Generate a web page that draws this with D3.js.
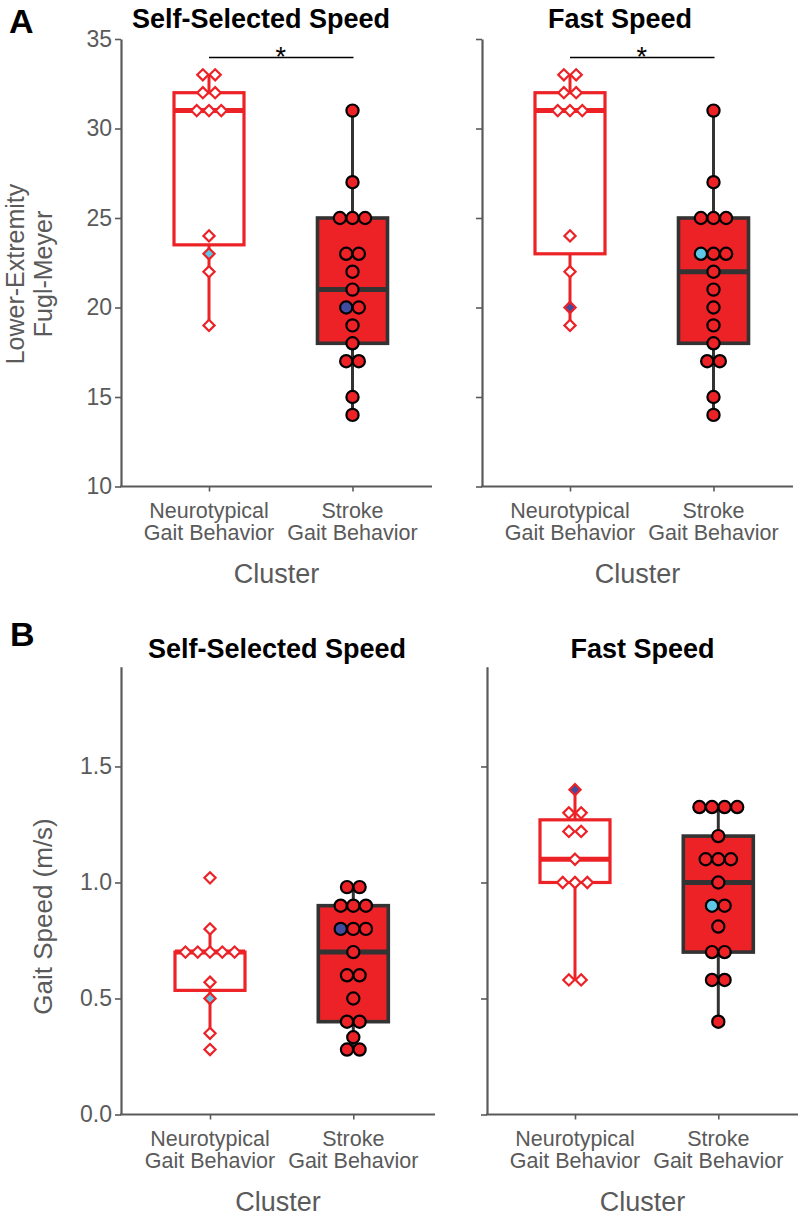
<!DOCTYPE html>
<html><head><meta charset="utf-8">
<script src="https://cdn.jsdelivr.net/npm/d3@7"></script>
<style>body{margin:0;background:#fff} svg{display:block} text{font-family:"Liberation Sans",Arial,Helvetica,sans-serif}</style>
</head><body><svg id="c" width="798" height="1219"></svg>
<script>
// ---------- data ----------
const categories = ["Neurotypical", "Stroke"];
const categoryLines = [["Neurotypical", "Gait Behavior"], ["Stroke", "Gait Behavior"]];
const yTicksFM = [10, 15, 20, 25, 30, 35];
const yTicksSpeed = [0, 0.5, 1.0, 1.5];

// Panel A: Lower-Extremity Fugl-Meyer
const fmSelfNeuro  = [33, 33, 32, 32, 31, 31, 31, 24, 23, 22, 19];
const fmSelfStroke = [31, 27, 25, 25, 25, 23, 23, 22, 21, 20, 20, 19, 18, 17, 17, 15, 14];
const fmFastNeuro  = [33, 33, 32, 32, 31, 31, 31, 24, 22, 20, 19];
const fmFastStroke = [31, 27, 25, 25, 25, 23, 23, 23, 22, 21, 20, 19, 18, 17, 17, 15, 14];
// box stats: [whisker low, Q1, median, Q3, whisker high]
const fmSelfNeuroBox  = [19, 23.5, 31, 32, 33];
const fmSelfStrokeBox = [14, 18, 21, 25, 31];
const fmFastNeuroBox  = [19, 23, 31, 32, 33];
const fmFastStrokeBox = [14, 18, 22, 25, 31];

// Panel B: Gait speed (m/s)
const spSelfNeuro  = [1.02, 0.80, 0.70, 0.70, 0.70, 0.70, 0.70, 0.57, 0.50, 0.35, 0.28];
const spSelfStroke = [0.98, 0.98, 0.90, 0.90, 0.90, 0.80, 0.80, 0.80, 0.70, 0.60, 0.60, 0.50, 0.40, 0.40, 0.333, 0.28, 0.28];
const spFastNeuro  = [1.40, 1.30, 1.30, 1.22, 1.22, 1.10, 1.00, 1.00, 1.00, 0.58, 0.58];
const spFastStroke = [1.325, 1.325, 1.325, 1.325, 1.20, 1.10, 1.10, 1.10, 1.00, 0.90, 0.90, 0.81, 0.70, 0.70, 0.58, 0.58, 0.40];
const spSelfNeuroBox  = [0.35, 0.535, 0.70, 0.70, 0.80];
const spSelfStrokeBox = [0.28, 0.40, 0.70, 0.90, 0.98];
const spFastNeuroBox  = [0.58, 1.00, 1.10, 1.27, 1.40];
const spFastStrokeBox = [0.40, 0.70, 1.00, 1.20, 1.325];

// highlighted participants: value per category, and colour
const fmSelfHighlight = [23, 20];
const fmFastHighlight = [20, 23];
const spSelfHighlight = [0.50, 0.80];
const spFastHighlight = [1.40, 0.90];
const fmSelfHighlightColor = ["cyan", "navy"];
const fmFastHighlightColor = ["navy", "cyan"];
const spSelfHighlightColor = ["cyan", "navy"];
const spFastHighlightColor = ["navy", "cyan"];

// ---------- style ----------
const RED = "#ec2227", DARK = "#333333", AXIS = "#5a5a5a";
const HL = {cyan: "#5ec6e6", navy: "#414ca0"};

const svg = d3.select("#c");

svg.append("text").attr("x", 9).attr("y", 33).attr("font-size", 34).attr("font-weight", "bold").text("A");
svg.append("text").attr("x", 10).attr("y", 646).attr("font-size", 34).attr("font-weight", "bold").text("B");

const yFM = d3.scaleLinear().domain([10, 35]).range([486.5, 39]);
const ySP = d3.scaleLinear().domain([0, 1.93]).range([1114.5, 666.7]);

function drawPanel(p) {
  const g = svg.append("g");
  const x = d3.scalePoint().domain(categories).range([p.cx0, p.cx1]);
  const y = p.y;
  const yb = y.range()[0];

  // y axis
  const ax = d3.axisLeft(y).tickValues(p.ticks).tickSize(6).tickSizeOuter(0).tickPadding(3)
    .tickFormat(p.labels ? p.fmt : "");
  const ag = g.append("g").attr("transform", `translate(${p.x0},0)`).call(ax);
  ag.select(".domain").attr("stroke", AXIS).attr("stroke-width", 2.2);
  ag.selectAll(".tick line").attr("stroke", AXIS).attr("stroke-width", 1.6);
  ag.selectAll(".tick text").attr("fill", AXIS).attr("font-size", 23).attr("font-family", '"Liberation Sans",Arial,sans-serif');

  // x axis
  const bx = d3.axisBottom(x).tickSize(5).tickSizeOuter(0).tickFormat("");
  const bg = g.append("g").attr("transform", `translate(0,${yb})`).call(bx);
  bg.select(".domain").remove();
  bg.selectAll(".tick line").attr("stroke", AXIS).attr("stroke-width", 1.6);
  g.append("line").attr("x1", p.x0 - 1).attr("x2", p.x1).attr("y1", yb).attr("y2", yb)
    .attr("stroke", AXIS).attr("stroke-width", 2.2);

  categories.forEach((c, i) => {
    const t = g.append("text").attr("text-anchor", "middle").attr("fill", AXIS).attr("font-size", 21.5);
    categoryLines[i].forEach((ln, j) => {
      t.append("tspan").attr("x", x(c)).attr("y", yb + 31 + j * 22.5).text(ln);
    });
  });
  g.append("text").attr("x", (p.x0 + p.x1) / 2).attr("y", yb + 96).attr("text-anchor", "middle")
    .attr("fill", AXIS).attr("font-size", 27).text("Cluster");

  // title
  g.append("text").attr("x", p.tx).attr("y", p.ty).attr("text-anchor", "middle")
    .attr("font-size", 27).attr("font-weight", "bold").attr("fill", "#000").text(p.title);

  // significance
  if (p.sig) {
    g.append("line").attr("x1", x(categories[0])).attr("x2", x(categories[1]) + 1)
      .attr("y1", 57.5).attr("y2", 57.5).attr("stroke", "#000").attr("stroke-width", 1.6);
    g.append("text").attr("x", (x(categories[0]) + x(categories[1])) / 2).attr("y", 66)
      .attr("text-anchor", "middle").attr("font-size", 27).attr("fill", "#000").text("*");
  }

  const bw = 70;
  // boxes
  p.groups.forEach((grp, i) => {
    const cx = x(categories[i]);
    const s = grp.box;
    const neuro = i === 0;
    const col = neuro ? RED : DARK;
    g.append("line").attr("x1", cx).attr("x2", cx).attr("y1", y(s[0])).attr("y2", y(s[4]))
      .attr("stroke", col).attr("stroke-width", 3);
    g.append("rect").attr("x", cx - bw / 2).attr("y", y(s[3])).attr("width", bw)
      .attr("height", y(s[1]) - y(s[3]))
      .attr("fill", neuro ? "#fff" : RED).attr("stroke", col).attr("stroke-width", neuro ? 3.2 : 3.6);
    g.append("line").attr("x1", cx - bw / 2).attr("x2", cx + bw / 2).attr("y1", y(s[2])).attr("y2", y(s[2]))
      .attr("stroke", col).attr("stroke-width", 5);
  });

  // points (centred swarm per equal value)
  p.groups.forEach((grp, i) => {
    const cx = x(categories[i]);
    const neuro = i === 0;
    const counts = d3.rollup(grp.vals, v => v.length, d => d);
    const used = new Map();
    let hlDone = false;
    const pts = [];
    grp.vals.forEach(v => {
      const k = counts.get(v);
      const idx = used.get(v) || 0;
      used.set(v, idx + 1);
      const sp = neuro ? 12.3 : 12.6;
      const ox = (idx - (k - 1) / 2) * sp;
      let hl = null;
      if (!hlDone && v === grp.hl && idx === 0) { hl = grp.hlc; hlDone = true; }
      pts.push({v, ox, hl});
    });
    pts.forEach(d => {
      const px = cx + d.ox, py = y(d.v);
      if (neuro) {
        const r = 5.6;
        g.append("path").attr("d", `M${px},${py - r}L${px + r},${py}L${px},${py + r}L${px - r},${py}Z`)
          .attr("fill", d.hl ? HL[d.hl] : "#fff").attr("stroke", RED).attr("stroke-width", 2.2);
      } else {
        g.append("circle").attr("cx", px).attr("cy", py).attr("r", 6.1)
          .attr("fill", d.hl ? HL[d.hl] : RED).attr("stroke", "#000").attr("stroke-width", 2.2);
      }
    });
  });
}

const fmtFM = d3.format("d"), fmtSP = d3.format(".1f");

drawPanel({x0: 121, x1: 432, cx0: 209, cx1: 352.5, y: yFM, ticks: yTicksFM, labels: true, fmt: fmtFM,
  title: "Self-Selected Speed", tx: 261, ty: 28, sig: true,
  groups: [{vals: fmSelfNeuro, box: fmSelfNeuroBox, hl: fmSelfHighlight[0], hlc: fmSelfHighlightColor[0]},
           {vals: fmSelfStroke, box: fmSelfStrokeBox, hl: fmSelfHighlight[1], hlc: fmSelfHighlightColor[1]}]});
drawPanel({x0: 482, x1: 793, cx0: 570, cx1: 713.5, y: yFM, ticks: yTicksFM, labels: false, fmt: fmtFM,
  title: "Fast Speed", tx: 620, ty: 28, sig: true,
  groups: [{vals: fmFastNeuro, box: fmFastNeuroBox, hl: fmFastHighlight[0], hlc: fmFastHighlightColor[0]},
           {vals: fmFastStroke, box: fmFastStrokeBox, hl: fmFastHighlight[1], hlc: fmFastHighlightColor[1]}]});
drawPanel({x0: 121, x1: 435, cx0: 210, cx1: 353.3, y: ySP, ticks: yTicksSpeed, labels: true, fmt: fmtSP,
  title: "Self-Selected Speed", tx: 277, ty: 658, sig: false,
  groups: [{vals: spSelfNeuro, box: spSelfNeuroBox, hl: spSelfHighlight[0], hlc: spSelfHighlightColor[0]},
           {vals: spSelfStroke, box: spSelfStrokeBox, hl: spSelfHighlight[1], hlc: spSelfHighlightColor[1]}]});
drawPanel({x0: 487, x1: 798, cx0: 575, cx1: 718.3, y: ySP, ticks: yTicksSpeed, labels: false, fmt: fmtSP,
  title: "Fast Speed", tx: 642.5, ty: 658, sig: false,
  groups: [{vals: spFastNeuro, box: spFastNeuroBox, hl: spFastHighlight[0], hlc: spFastHighlightColor[0]},
           {vals: spFastStroke, box: spFastStrokeBox, hl: spFastHighlight[1], hlc: spFastHighlightColor[1]}]});

// y-axis titles
const ya = svg.append("text").attr("transform", "translate(0,274) rotate(-90)").attr("text-anchor", "middle")
  .attr("fill", AXIS).attr("font-size", 25);
ya.append("tspan").attr("x", 0).attr("y", 24).text("Lower-Extremity");
ya.append("tspan").attr("x", 0).attr("y", 52).text("Fugl-Meyer");
svg.append("text").attr("transform", "translate(52,916.5) rotate(-90)").attr("text-anchor", "middle")
  .attr("fill", AXIS).attr("font-size", 26).text("Gait Speed (m/s)");
</script></body></html>
